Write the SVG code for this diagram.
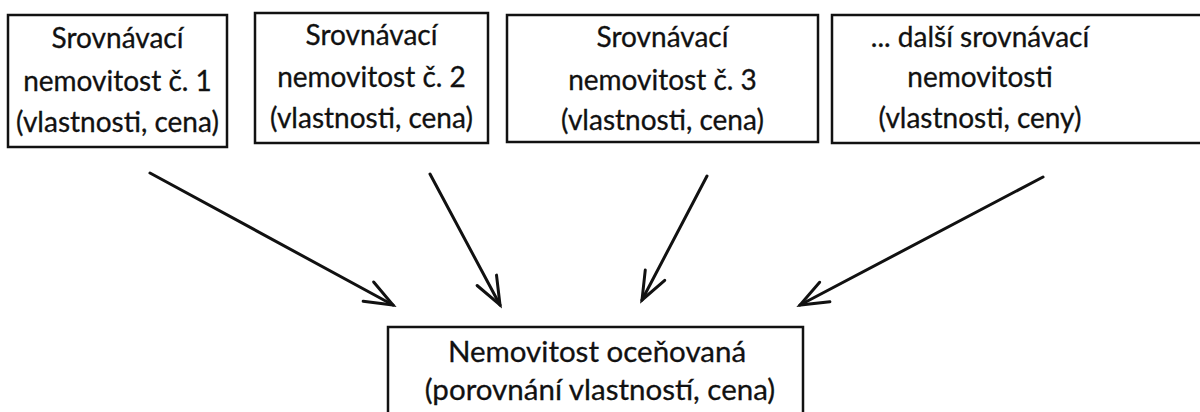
<svg xmlns="http://www.w3.org/2000/svg" width="1200" height="412" viewBox="0 0 1200 412">
<style>
.box{fill:#fff;stroke:#111;stroke-width:2.5}
.t{font-family:Lato,"Open Sans","Liberation Sans",sans-serif;font-size:28px;fill:#111;text-anchor:middle;stroke:#111;stroke-width:0.3}
.b{font-size:29.5px}
.c{stroke:#111;stroke-width:3;fill:none;stroke-linecap:round}
</style>
<defs>
<marker id="ah" markerUnits="userSpaceOnUse" markerWidth="40" markerHeight="40" viewBox="-35 -20 40 40" refX="0" refY="0" orient="auto">
<path d="M -28 -11 L 0 0 L -28 11" fill="none" stroke="#111" stroke-width="3" stroke-linecap="round" stroke-linejoin="miter"/>
</marker>
</defs>
<rect width="1200" height="412" fill="#fff"/>
<g id="n1">
<rect class="box" x="8" y="15" width="219" height="132"/>
<text class="t" x="117.5" y="48">Srovnávací</text>
<text class="t" x="117.5" y="91">nemovitost č. 1</text>
<text class="t" x="117.5" y="132">(vlastnosti, cena)</text>
</g>
<g id="n2">
<rect class="box" x="255" y="13" width="233" height="130"/>
<text class="t" x="371.5" y="45">Srovnávací</text>
<text class="t" x="371.5" y="87">nemovitost č. 2</text>
<text class="t" x="371.5" y="128">(vlastnosti, cena)</text>
</g>
<g id="n3">
<rect class="box" x="507" y="15" width="311" height="127"/>
<text class="t" x="662.5" y="47">Srovnávací</text>
<text class="t" x="662.5" y="90">nemovitost č. 3</text>
<text class="t" x="662.5" y="130">(vlastnosti, cena)</text>
</g>
<g id="n4">
<rect class="box" x="832" y="15" width="380" height="128"/>
<text class="t" x="980" y="47">... další srovnávací</text>
<text class="t" x="980" y="87">nemovitosti</text>
<text class="t" x="980" y="128">(vlastnosti, ceny)</text>
</g>
<g id="n5">
<rect class="box" x="388" y="327" width="415" height="100"/>
<text class="t b" x="597" y="362">Nemovitost oceňovaná</text>
<text class="t b" x="600" y="400">(porovnání vlastností, cena)</text>
</g>
<g id="connectors">
<line class="c" x1="150" y1="173" x2="393" y2="305" marker-end="url(#ah)"/>
<line class="c" x1="430" y1="174" x2="500" y2="305" marker-end="url(#ah)"/>
<line class="c" x1="707" y1="176" x2="642" y2="300" marker-end="url(#ah)"/>
<line class="c" x1="1043" y1="177" x2="800" y2="305" marker-end="url(#ah)"/>
</g>
</svg>
